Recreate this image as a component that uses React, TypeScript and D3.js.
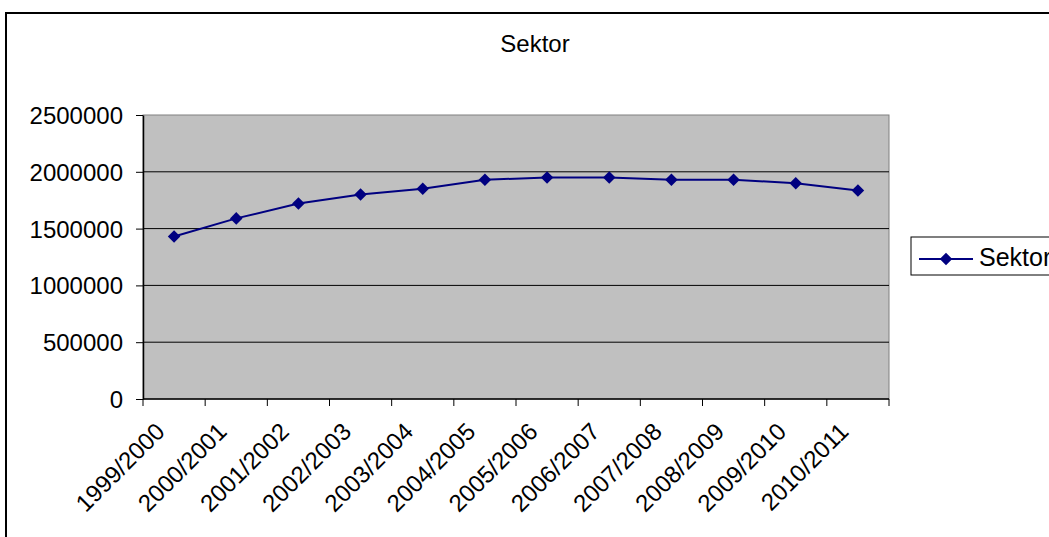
import React, { useRef, useEffect } from 'react';
import * as d3 from 'd3';

const seasons: string[] = [
  '1999/2000', '2000/2001', '2001/2002', '2002/2003', '2003/2004', '2004/2005',
  '2005/2006', '2006/2007', '2007/2008', '2008/2009', '2009/2010', '2010/2011',
];

const sektor: number[] = [
  1430000, 1590000, 1720000, 1800000, 1850000, 1930000,
  1950000, 1950000, 1930000, 1930000, 1900000, 1835000,
];

const yTicks: number[] = [0, 500000, 1000000, 1500000, 2000000, 2500000];

const FONT = '"Liberation Sans", Arial, sans-serif';

const SektorChart: React.FC = () => {
  const svgRef = useRef<SVGSVGElement | null>(null);

  useEffect(() => {
    if (!svgRef.current) return;

    const svg = d3.select(svgRef.current);
    svg.selectAll('*').remove();

    const width = 1049;
    const height = 537;
    const plot = { left: 143, right: 889, top: 115, bottom: 399 };

    svg.attr('width', width).attr('height', height).style('font-family', FONT);

    // chart frame (runs off the right and bottom edges)
    svg.append('rect')
      .attr('x', 6).attr('y', 13)
      .attr('width', 1100).attr('height', 600)
      .attr('fill', '#fff')
      .attr('stroke', '#000').attr('stroke-width', 2);

    svg.append('text')
      .attr('x', 535).attr('y', 52)
      .attr('text-anchor', 'middle')
      .attr('font-size', 24)
      .text('Sektor');

    const x = d3.scaleBand<string>()
      .domain(seasons)
      .range([plot.left, plot.right])
      .padding(0);

    const y = d3.scaleLinear()
      .domain([0, 2500000])
      .range([plot.bottom, plot.top]);

    // plot area
    svg.append('rect')
      .attr('x', plot.left).attr('y', plot.top)
      .attr('width', plot.right - plot.left).attr('height', plot.bottom - plot.top)
      .attr('fill', '#c0c0c0')
      .attr('stroke', '#808080').attr('stroke-width', 1);

    // gridlines
    svg.append('g')
      .selectAll('line')
      .data(yTicks.filter(t => t > 0 && t < 2500000))
      .enter()
      .append('line')
      .attr('x1', plot.left).attr('x2', plot.right)
      .attr('y1', d => y(d)).attr('y2', d => y(d))
      .attr('stroke', '#000').attr('stroke-width', 1);

    // y axis
    const yAxis = svg.append('g')
      .attr('transform', `translate(${plot.left},0)`)
      .call(d3.axisLeft(y).tickValues(yTicks).tickFormat(d3.format('d')).tickSize(7).tickPadding(13).tickSizeOuter(0));
    yAxis.select('.domain').attr('stroke', '#000').attr('stroke-width', 1.5);
    yAxis.selectAll('text').attr('font-size', 24).attr('font-family', FONT).attr('fill', '#000').attr('dy', '0.35em');

    // x axis
    svg.append('line')
      .attr('x1', plot.left).attr('x2', plot.right)
      .attr('y1', plot.bottom).attr('y2', plot.bottom)
      .attr('stroke', '#000').attr('stroke-width', 1.5);

    const edges = seasons.map(s => x(s)!).concat([plot.right]);
    svg.append('g')
      .selectAll('line')
      .data(edges)
      .enter()
      .append('line')
      .attr('x1', d => d).attr('x2', d => d)
      .attr('y1', plot.bottom).attr('y2', plot.bottom + 7)
      .attr('stroke', '#000').attr('stroke-width', 1);

    svg.append('g')
      .selectAll('text')
      .data(seasons)
      .enter()
      .append('text')
      .attr('transform', d => `translate(${x(d)! + x.bandwidth() / 2 - 8},433) rotate(-45)`)
      .attr('text-anchor', 'end')
      .attr('font-size', 24)
      .text(d => d);

    // series
    const cx = (i: number) => x(seasons[i])! + x.bandwidth() / 2;
    const line = d3.line<number>()
      .x((_, i) => cx(i))
      .y(d => y(d));

    svg.append('path')
      .datum(sektor)
      .attr('d', line)
      .attr('fill', 'none')
      .attr('stroke', '#000080')
      .attr('stroke-width', 2);

    const diamond = d3.symbol().type(d3.symbolDiamond2).size(100);
    svg.append('g')
      .selectAll('path')
      .data(sektor)
      .enter()
      .append('path')
      .attr('transform', (d, i) => `translate(${cx(i)},${y(d)})`)
      .attr('d', diamond)
      .attr('fill', '#000080');

    // legend
    const legend = svg.append('g').attr('transform', 'translate(911,237)');
    legend.append('rect')
      .attr('width', 160).attr('height', 38)
      .attr('fill', '#fff')
      .attr('stroke', '#000').attr('stroke-width', 1);
    legend.append('line')
      .attr('x1', 8).attr('x2', 62)
      .attr('y1', 22).attr('y2', 22)
      .attr('stroke', '#000080').attr('stroke-width', 2);
    legend.append('path')
      .attr('transform', 'translate(35,22)')
      .attr('d', diamond)
      .attr('fill', '#000080');
    legend.append('text')
      .attr('x', 68).attr('y', 29)
      .attr('font-size', 25)
      .text('Sektor');
  }, []);

  return <svg ref={svgRef} style={{ display: 'block', position: 'absolute', left: 0, top: 0 }} />;
};

export default function App() {
  return <SektorChart />;
}
